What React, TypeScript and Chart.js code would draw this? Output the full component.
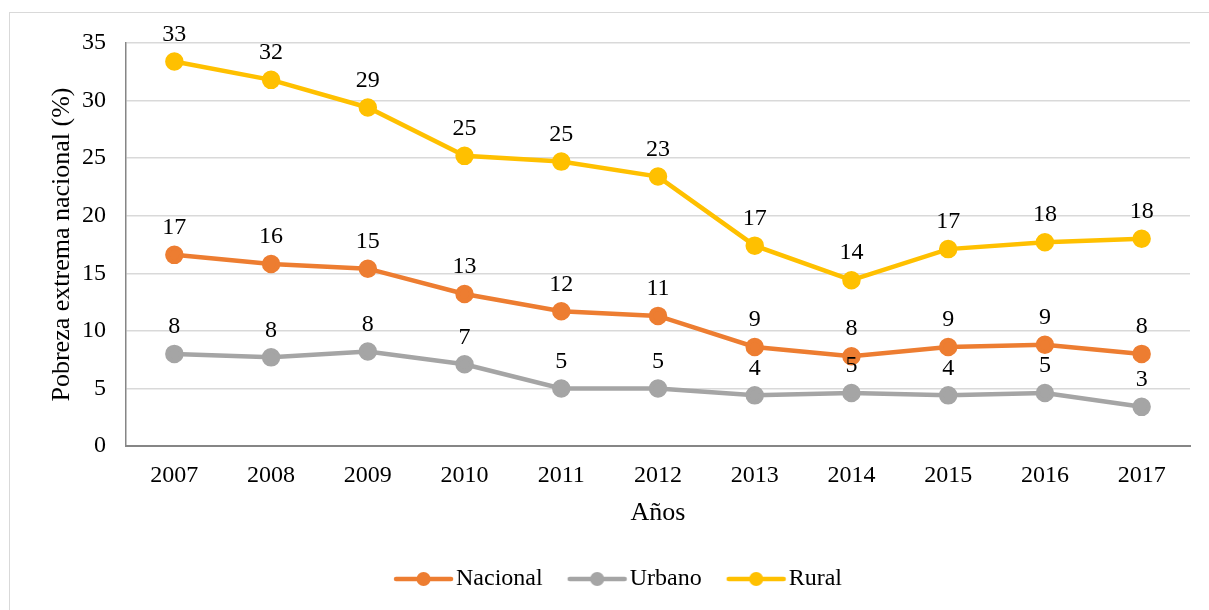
import React, { useEffect, useRef } from "react";
import { Chart, registerables } from "chart.js";

Chart.register(...registerables);

const years = ["2007", "2008", "2009", "2010", "2011", "2012", "2013", "2014", "2015", "2016", "2017"];
const nacional = [16.6, 15.8, 15.4, 13.2, 11.7, 11.3, 8.6, 7.8, 8.6, 8.8, 8.0];
const urbano = [8.0, 7.7, 8.2, 7.1, 5.0, 5.0, 4.4, 4.6, 4.4, 4.6, 3.4];
const rural = [33.4, 31.8, 29.4, 25.2, 24.7, 23.4, 17.4, 14.4, 17.1, 17.7, 18.0];
const yTicks = [0, 5, 10, 15, 20, 25, 30, 35];

const FONT = "'Liberation Serif', 'Times New Roman', serif";
const FS = 24;
const TFS = 26;

function makeMarker(color: string): HTMLCanvasElement {
  const c = document.createElement("canvas");
  c.width = 80;
  c.height = 16;
  const g = c.getContext("2d")!;
  g.strokeStyle = color;
  g.lineWidth = 4.5;
  g.lineCap = "round";
  g.beginPath();
  g.moveTo(18, 8);
  g.lineTo(73, 8);
  g.stroke();
  g.fillStyle = color;
  g.beginPath();
  g.arc(45.5, 8, 7, 0, Math.PI * 2);
  g.fill();
  return c;
}

const dataLabels = {
  id: "dataLabels",
  afterDatasetsDraw(chart: any) {
    const ctx = chart.ctx;
    ctx.save();
    ctx.font = `${FS}px ${FONT}`;
    ctx.fillStyle = "#000";
    ctx.textAlign = "center";
    ctx.textBaseline = "middle";
    chart.data.datasets.forEach((ds: any, i: number) => {
      const meta = chart.getDatasetMeta(i);
      meta.data.forEach((pt: any, j: number) => {
        const v = ds.data[j];
        ctx.fillText(String(Math.round(v)), pt.x, pt.y - 27);
      });
    });
    ctx.restore();
  },
};

export default function App() {
  const ref = useRef<HTMLCanvasElement>(null);
  useEffect(() => {
    const colors = ["#ED7D31", "#A5A5A5", "#FFC000"];
    const mk = (label: string, data: number[], color: string) => ({
      label,
      data,
      borderColor: color,
      backgroundColor: color,
      pointBackgroundColor: color,
      pointBorderColor: color,
      borderWidth: 4.5,
      pointRadius: 7,
      pointHoverRadius: 7,
      tension: 0,
      fill: false,
    });
    const markers = colors.map(makeMarker);
    const chart = new Chart(ref.current!, {
      type: "line",
      data: {
        labels: years,
        datasets: [
          mk("Nacional", nacional, colors[0]),
          mk("Urbano", urbano, colors[1]),
          mk("Rural", rural, colors[2]),
        ],
      },
      plugins: [dataLabels],
      options: {
        animation: false,
        responsive: false,
        devicePixelRatio: 1,
        layout: { padding: { left: 44, right: 19, top: 43, bottom: 9 } },
        plugins: {
          tooltip: { enabled: false },
          legend: {
            position: "bottom",
            labels: {
              usePointStyle: true,
              pointStyleWidth: 52,
              padding: 23,
              color: "#000",
              font: { family: FONT, size: FS },
              generateLabels: (chart: any) =>
                chart.data.datasets.map((ds: any, i: number) => ({
                  text: ds.label,
                  fillStyle: ds.borderColor,
                  strokeStyle: ds.borderColor,
                  lineWidth: 0,
                  pointStyle: markers[i],
                  datasetIndex: i,
                  fontColor: "#000",
                })),
            },
          },
        },
        scales: {
          x: {
            offset: true,
            grid: { display: false, drawTicks: false },
            border: { display: true, color: "#868686", width: 2 },
            ticks: { color: "#000", font: { family: FONT, size: FS }, padding: 15, maxRotation: 0 },
            title: {
              display: true,
              text: "Años",
              color: "#000",
              font: { family: FONT, size: TFS },
              padding: { top: 0, bottom: 15.4 },
            },
            afterFit: (s: any) => {
              s.height = 98;
            },
          },
          y: {
            min: 0,
            max: 35,
            afterBuildTicks: (s: any) => {
              s.ticks = yTicks.map((v) => ({ value: v }));
            },
            grid: { color: "#D9D9D9", lineWidth: 1.5, drawTicks: false },
            border: { display: true, color: "#868686", width: 1.5 },
            ticks: { color: "#000", font: { family: FONT, size: FS }, padding: 20 },
            title: {
              display: true,
              text: "Pobreza extrema nacional (%)",
              color: "#000",
              font: { family: FONT, size: TFS },
              padding: { top: 2.4, bottom: 0 },
            },
            afterFit: (s: any) => {
              s.width = 82;
            },
          },
        },
      },
    });
    return () => chart.destroy();
  }, []);
  return (
    <div style={{ position: "fixed", left: 0, top: 0, width: 1209, height: 610, overflow: "hidden", background: "#fff" }}>
      <div
        style={{
          position: "absolute",
          left: 9,
          top: 12,
          width: 1220,
          height: 620,
          border: "1.5px solid #D9D9D9",
          boxSizing: "border-box",
        }}
      />
      <canvas ref={ref} width={1209} height={610} style={{ position: "absolute", left: 0, top: 0, width: 1209, height: 610 }} />
    </div>
  );
}
